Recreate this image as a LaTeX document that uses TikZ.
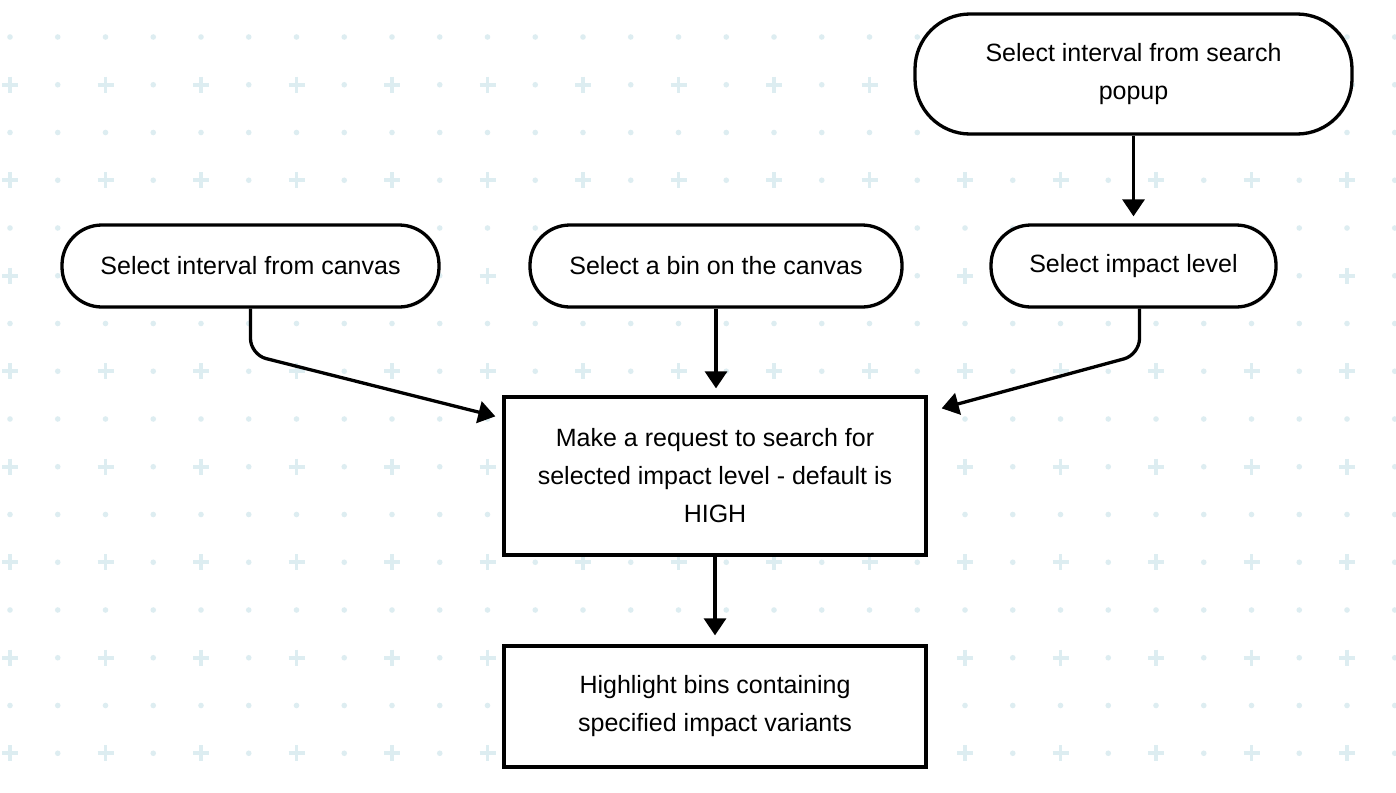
\documentclass[tikz,border=0pt]{standalone}
\usepackage{fontspec}
\setmainfont{Liberation Sans}
\usepackage{tikz}
\usetikzlibrary{arrows.meta, shadows}

\definecolor{gridblue}{RGB}{221,237,241}
\tikzset{
  pill/.style={draw, line width=3.3pt, fill=white, rounded corners=#1, align=center,
    inner sep=0pt, font=\fontsize{25}{38}\selectfont,
    drop shadow={shadow xshift=1pt, shadow yshift=-2pt, opacity=0.12}},
  stepbox/.style={pill=0pt},
  flow/.style={line width=3.3pt, -{Triangle[length=17pt, width=22pt]}},
}

\begin{document}
\begin{tikzpicture}[x=1pt, y=-1pt]
\useasboundingbox (0,0) rectangle (1396,792);
\fill[white] (0,0) rectangle (1396,792);
% background grid
\foreach \j in {0,...,15}{
  \foreach \i in {0,...,29}{
    \pgfmathtruncatemacro{\iscross}{and(isodd(\j),iseven(\i))}
    \ifnum\iscross=1
      \draw[gridblue, line width=3.8pt] (10+47.75*\i-8, 37+47.75*\j) -- ++(16,0)
        (10+47.75*\i, 37+47.75*\j-8) -- ++(0,16);
    \else
      \fill[gridblue] (10+47.75*\i, 37+47.75*\j) circle (2.8pt);
    \fi
  }
}

\node[pill=55pt, minimum width=437pt, minimum height=120pt] (popup) at (1133.5,74) {Select interval from search\\popup};
\node[pill=40pt, minimum width=377pt, minimum height=82pt] (canvas) at (250.5,266) {Select interval from canvas};
\node[pill=40pt, minimum width=372pt, minimum height=82pt] (bin) at (716,266) {Select a bin on the canvas};
\node[pill=40pt, minimum width=285pt, minimum height=82pt] (impact) at (1133.5,266) {Select impact level};
\node[stepbox, minimum width=422pt, minimum height=158pt] (request) at (715,476) {Make a request to search for\\selected impact level - default is\\HIGH};
\node[stepbox, minimum width=422pt, minimum height=121pt] (highlight) at (715,706.5) {Highlight bins containing\\specified impact variants};

\draw[flow, shorten >=7pt] (popup) -- (impact);
\draw[flow, rounded corners=16pt] (canvas.south) -- ++(0,46) -- ([shift={(-7pt,-21pt)}]request.north west);
\draw[flow, shorten >=7pt] (bin.south) -- (bin.south |- request.north);
\draw[flow, rounded corners=16pt] ([xshift=6pt]impact.south) -- ++(0,46) -- ([shift={(14pt,-13pt)}]request.north east);
\draw[flow, shorten >=9pt] (request) -- (highlight);
\end{tikzpicture}
\end{document}
